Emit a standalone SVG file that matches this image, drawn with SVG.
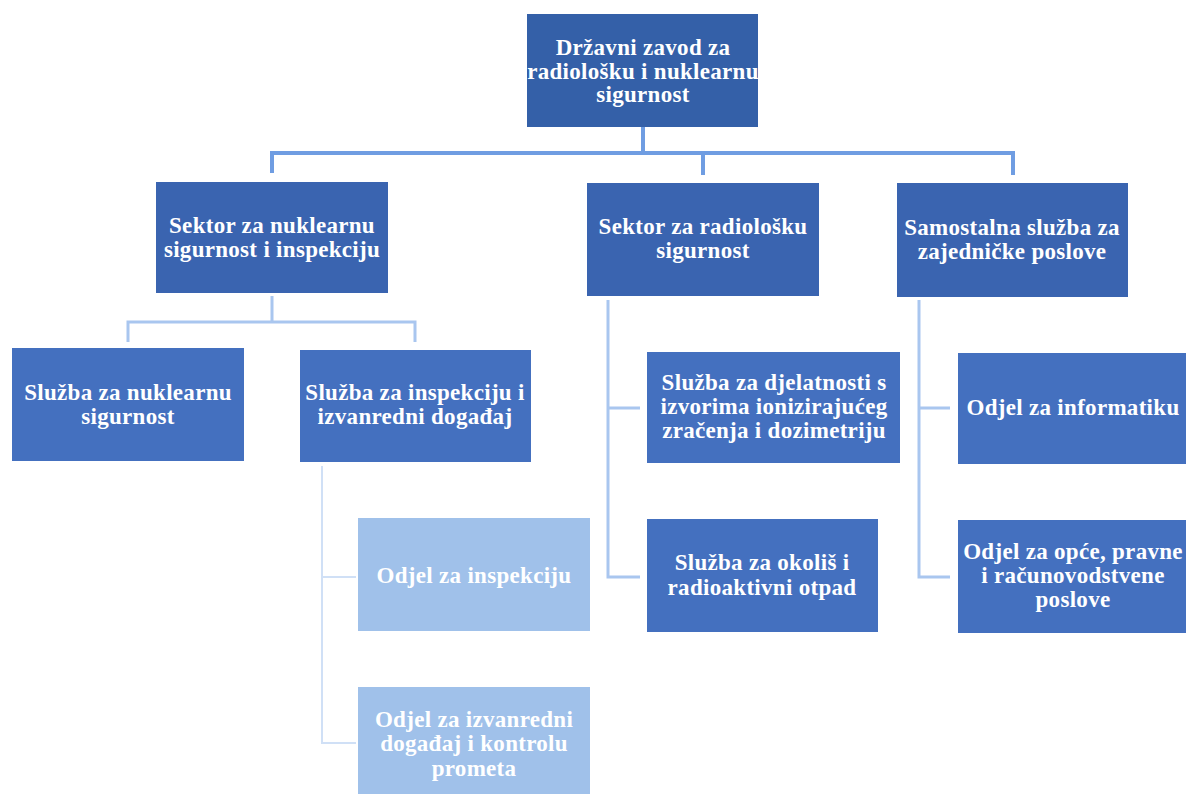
<svg xmlns="http://www.w3.org/2000/svg" width="1186" height="794" viewBox="0 0 1186 794">
<style>
.dark{fill:#3a64b0}
.top{fill:#3460a8}
.mid{fill:#4470bf}
.light{fill:#a0c1ea}
text{font-family:"Liberation Serif","Times New Roman",serif;font-weight:bold;font-size:23px;letter-spacing:0.3px;fill:#ffffff;text-anchor:middle}
.c1{fill:none;stroke:#6f9de2;stroke-width:4}
.c2{fill:none;stroke:#a9c6ef;stroke-width:3}
.c3{fill:none;stroke:#d0e0f6;stroke-width:2}
</style>
<rect width="1186" height="794" fill="#ffffff"/>
<g id="connectors">
<path class="c1" d="M643 127V153M272 173V153H1013V175M703 153V175"/>
<path class="c2" d="M272 296V322M128 342V322H415V342"/>
<path class="c2" d="M608 300V577H640M608 408H640"/>
<path class="c2" d="M919 300V577H950M919 408H950"/>
<path class="c3" d="M322 466V743H356M322 577H356"/>
</g>
<g id="n_root">
<rect class="top" x="527" y="14" width="231" height="113"/>
<text x="643" y="55">Državni zavod za</text>
<text x="643" y="79">radiološku i nuklearnu</text>
<text x="643" y="102">sigurnost</text>
</g>
<g id="n_sektor_nuk">
<rect class="dark" x="156" y="182" width="232" height="111"/>
<text x="272" y="233">Sektor za nuklearnu</text>
<text x="272" y="257">sigurnost i inspekciju</text>
</g>
<g id="n_sektor_rad">
<rect class="dark" x="587" y="183" width="232" height="113"/>
<text x="703" y="234">Sektor za radiološku</text>
<text x="703" y="258">sigurnost</text>
</g>
<g id="n_samostalna">
<rect class="dark" x="897" y="183" width="231" height="114"/>
<text x="1012" y="235">Samostalna služba za</text>
<text x="1012" y="259">zajedničke poslove</text>
</g>
<g id="n_sluzba_nuk">
<rect class="mid" x="12" y="348" width="232" height="113"/>
<text x="128" y="400">Služba za nuklearnu</text>
<text x="128" y="424">sigurnost</text>
</g>
<g id="n_sluzba_insp">
<rect class="mid" x="300" y="350" width="231" height="112"/>
<text x="415" y="400">Služba za inspekciju i</text>
<text x="415" y="424">izvanredni događaj</text>
</g>
<g id="n_odjel_insp">
<rect class="light" x="358" y="518" width="232" height="113"/>
<text x="474" y="583">Odjel za inspekciju</text>
</g>
<g id="n_odjel_izv">
<rect class="light" x="358" y="687" width="232" height="112"/>
<text x="474" y="727">Odjel za izvanredni</text>
<text x="474" y="751">događaj i kontrolu</text>
<text x="474" y="776">prometa</text>
</g>
<g id="n_sluzba_djel">
<rect class="mid" x="647" y="352" width="253" height="111"/>
<text x="774" y="390">Služba za djelatnosti s</text>
<text x="774" y="414">izvorima ionizirajućeg</text>
<text x="774" y="438">zračenja i dozimetriju</text>
</g>
<g id="n_sluzba_okolis">
<rect class="mid" x="647" y="519" width="231" height="113"/>
<text x="762" y="570">Služba za okoliš i</text>
<text x="762" y="595">radioaktivni otpad</text>
</g>
<g id="n_odjel_inf">
<rect class="mid" x="958" y="353" width="232" height="111"/>
<text x="1073" y="415">Odjel za informatiku</text>
</g>
<g id="n_odjel_opce">
<rect class="mid" x="958" y="520" width="232" height="113"/>
<text x="1073" y="559">Odjel za opće, pravne</text>
<text x="1073" y="583">i računovodstvene</text>
<text x="1073" y="607">poslove</text>
</g>
</svg>
